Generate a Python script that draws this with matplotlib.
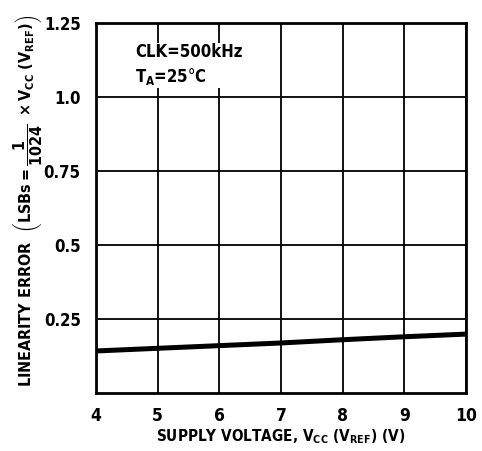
import matplotlib
matplotlib.use("Agg")
import matplotlib.pyplot as plt

plt.rcParams['font.family'] = ['DejaVu Sans']
plt.rcParams['font.stretch'] = 'condensed'
plt.rcParams['font.weight'] = 'bold'
plt.rcParams['axes.labelweight'] = 'bold'
plt.rcParams['mathtext.fontset'] = 'custom'
plt.rcParams['mathtext.rm'] = 'DejaVu Sans:weight=bold:stretch=condensed'
plt.rcParams['mathtext.it'] = 'DejaVu Sans:weight=bold:stretch=condensed'
plt.rcParams['mathtext.bf'] = 'DejaVu Sans:weight=bold:stretch=condensed'

# data
supply_voltage = [4, 5, 6, 7, 8, 9, 10]
linearity_error = [0.142, 0.151, 0.160, 0.169, 0.180, 0.190, 0.199]

x_ticks = [4, 5, 6, 7, 8, 9, 10]
y_ticks = [0.25, 0.5, 0.75, 1.0, 1.25]
y_tick_labels = ['0.25', '0.5', '0.75', '1.0', '1.25']

fig = plt.figure(figsize=(4.82, 4.51), dpi=100)
ax = fig.add_axes([0.199, 0.1286, 0.768, 0.8204])

ax.plot(supply_voltage, linearity_error, color='black', linewidth=3.6,
        solid_capstyle='butt', zorder=3)

ax.set_xlim(4, 10)
ax.set_ylim(0, 1.25)
ax.set_xticks(x_ticks)
ax.set_yticks(y_ticks)
ax.set_yticklabels(y_tick_labels)
ax.tick_params(axis='x', length=0, labelsize=12.5, pad=10)
ax.tick_params(axis='y', length=0, labelsize=12, pad=11)
ax.grid(True, color='black', linewidth=1.3)
for s in ax.spines.values():
    s.set_linewidth(2)

ax.set_xlabel(r'SUPPLY VOLTAGE, V$_\mathrm{CC}$ (V$_\mathrm{REF}$) (V)',
              fontsize=11, labelpad=2)

fig.text(0.057, 0.555,
         r'LINEARITY ERROR  $\left(\mathrm{LSBs}=\dfrac{1}{1024}\ \times\mathrm{V_{CC}\ (V_{REF}})\right)$',
         rotation=90, ha='center', va='center', fontsize=11.5)

ax.text(0.105, 0.945, 'CLK=500kHz\nT$_\\mathrm{A}$=25°C', transform=ax.transAxes,
        ha='left', va='top', fontsize=12, linespacing=1.3,
        bbox=dict(facecolor='white', edgecolor='none', pad=1), zorder=4)

fig.savefig('out.png', dpi=100)
